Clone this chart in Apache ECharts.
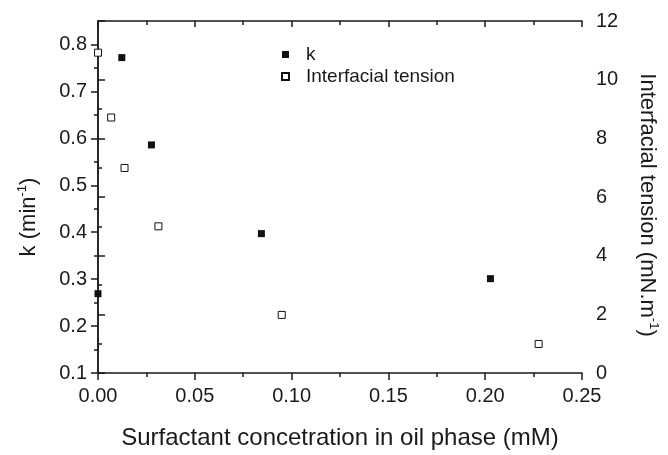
<!DOCTYPE html>
<html>
<head>
<meta charset="utf-8">
<script src="https://cdn.jsdelivr.net/npm/echarts@6/dist/echarts.min.js"></script>
<style>
  html, body { margin: 0; padding: 0; background: #fff; }
  #chart { width: 668px; height: 455px; }
</style>
</head>
<body>
<div id="chart"></div>
<script>
  // k (min^-1) vs surfactant concentration
  const kConc = [0.0, 0.0123, 0.0276, 0.0844, 0.2027];
  const kValues = [0.269, 0.772, 0.586, 0.397, 0.301];
  // interfacial tension (mN/m) vs surfactant concentration
  const tensionConc = [0.0, 0.0068, 0.0137, 0.0312, 0.0949, 0.2276];
  const tensionValues = [10.92, 8.71, 6.99, 5.0, 1.98, 0.99];
  const kMajorTicks = [0.1, 0.2, 0.3, 0.4, 0.5, 0.6, 0.7, 0.8];
  const kMinorTicks = [0.15, 0.25, 0.35, 0.45, 0.55, 0.65, 0.75];

  const font = 'Liberation Sans, Arial, sans-serif';
  const ink = '#1a1a1a';
  const axisLine = { show: true, lineStyle: { color: ink, width: 1.5 } };

  const chart = echarts.init(document.getElementById('chart'));
  chart.setOption({
    animation: false,
    textStyle: { fontFamily: font, color: ink },
    grid: { left: 98, right: 78, top: 21, bottom: 73 },
    legend: {
      orient: 'vertical',
      left: 276,
      top: 40,
      itemWidth: 7,
      itemHeight: 7,
      itemGap: 3,
      textStyle: { fontFamily: font, fontSize: 19, color: ink, padding: [0, 0, 0, 12] },
      data: [
        { name: 'k', icon: 'rect' },
        { name: 'Interfacial tension', icon: 'rect' }
      ]
    },
    xAxis: [
      {
        type: 'value',
        position: 'bottom',
        min: 0,
        max: 0.25,
        interval: 0.05,
        name: 'Surfactant concetration in oil phase (mM)',
        nameLocation: 'middle',
        nameGap: 53,
        nameTextStyle: { fontFamily: font, fontSize: 24, color: ink },
        axisLine: axisLine,
        axisTick: { show: true, length: 7, lineStyle: { color: ink, width: 1.5 } },
        minorTick: { show: true, splitNumber: 2, length: 4, lineStyle: { color: ink, width: 1.5 } },
        axisLabel: {
          fontFamily: font, fontSize: 20, color: ink, margin: 13,
          formatter: v => v.toFixed(2)
        },
        splitLine: { show: false }
      },
      {
        type: 'value',
        position: 'top',
        min: 0,
        max: 0.25,
        interval: 0.05,
        axisLine: axisLine,
        axisTick: { show: true, inside: true, length: 6, lineStyle: { color: ink, width: 1.5 } },
        minorTick: { show: true, splitNumber: 2, length: 4, lineStyle: { color: ink, width: 1.5 } },
        axisLabel: { show: false },
        splitLine: { show: false }
      }
    ],
    yAxis: [
      {
        type: 'value',
        position: 'left',
        min: 0.1,
        max: 0.85,
        interval: 0.1,
        name: 'k (min{sup|-1})',
        nameLocation: 'middle',
        nameGap: 56,
        nameTextStyle: {
          fontFamily: font, fontSize: 22, color: ink, lineHeight: 26,
          padding: [0, 40, 0, 0],
          rich: { sup: { fontFamily: font, fontSize: 13, verticalAlign: 'top', lineHeight: 26 } }
        },
        axisLine: axisLine,
        axisTick: { show: true, length: 7, customValues: kMajorTicks, lineStyle: { color: ink, width: 1.5 } },
        axisLabel: {
          fontFamily: font, fontSize: 20, color: ink, margin: 11,
          customValues: kMajorTicks,
          formatter: v => v.toFixed(1)
        },
        splitLine: { show: false }
      },
      {
        type: 'value',
        position: 'right',
        min: 0,
        max: 12,
        interval: 2,
        name: 'Interfacial tension (mN.m{sup|-1})',
        nameLocation: 'middle',
        nameRotate: -90,
        nameGap: 52,
        nameTextStyle: {
          fontFamily: font, fontSize: 22, color: ink, lineHeight: 26,
          padding: [0, 0, 0, 16],
          rich: { sup: { fontFamily: font, fontSize: 13, verticalAlign: 'top', lineHeight: 26 } }
        },
        axisLine: axisLine,
        axisTick: { show: true, length: 7, lineStyle: { color: ink, width: 1.5 } },
        minorTick: { show: true, splitNumber: 2, length: 4, lineStyle: { color: ink, width: 1.5 } },
        axisLabel: { fontFamily: font, fontSize: 20, color: ink, margin: 14 },
        splitLine: { show: false }
      },
      {
        // minor ticks for the k axis
        type: 'value',
        position: 'left',
        min: 0.1,
        max: 0.85,
        interval: 0.05,
        axisLine: { show: false },
        axisTick: { show: true, length: 4, customValues: kMinorTicks, lineStyle: { color: ink, width: 1.5 } },
        axisLabel: { show: false },
        splitLine: { show: false }
      }
    ],
    series: [
      {
        name: 'k',
        type: 'scatter',
        yAxisIndex: 0,
        symbol: 'rect',
        symbolSize: 7,
        itemStyle: { color: '#111', opacity: 1 },
        data: kConc.map((c, i) => [c, kValues[i]])
      },
      {
        name: 'Interfacial tension',
        type: 'scatter',
        yAxisIndex: 1,
        symbol: 'rect',
        symbolSize: 7,
        itemStyle: { color: '#fff', borderColor: '#111', borderWidth: 1, opacity: 1 },
        data: tensionConc.map((c, i) => [c, tensionValues[i]])
      }
    ]
  });
  window.addEventListener('resize', () => chart.resize());
</script>
</body>
</html>
